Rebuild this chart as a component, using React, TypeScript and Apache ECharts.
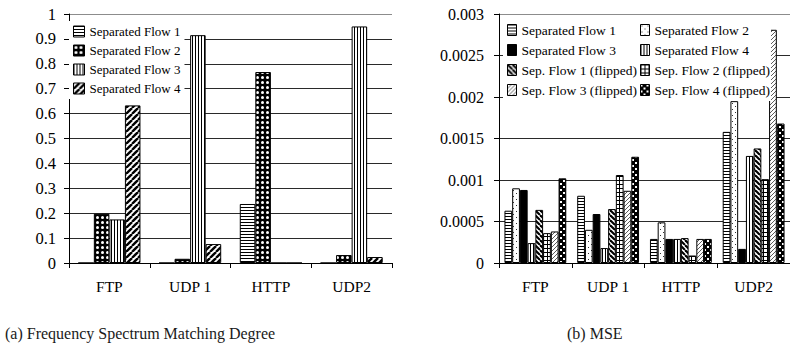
import React, { useEffect, useRef } from "react";
import * as echarts from "echarts";

// ---- data ----
const categories = ["FTP", "UDP 1", "HTTP", "UDP2"];

const matchingNames = ["Separated Flow 1", "Separated Flow 2", "Separated Flow 3", "Separated Flow 4"];
const matchingFlow1 = [0, 0, 0.237, 0];
const matchingFlow2 = [0.198, 0.017, 0.767, 0.032];
const matchingFlow3 = [0.175, 0.915, 0, 0.95];
const matchingFlow4 = [0.633, 0.076, 0, 0.024];
const matchingTicks = [0, 0.1, 0.2, 0.3, 0.4, 0.5, 0.6, 0.7, 0.8, 0.9, 1];

const mseNames = [
  "Separated Flow 1",
  "Separated Flow 2",
  "Separated Flow 3",
  "Separated Flow 4",
  "Sep. Flow 1 (flipped)",
  "Sep. Flow 2 (flipped)",
  "Sep. Flow 3 (flipped)",
  "Sep. Flow 4 (flipped)",
];
const mseFlow1 = [0.00063, 0.00081, 0.00029, 0.00158];
const mseFlow2 = [0.0009, 0.0004, 0.00049, 0.00195];
const mseFlow3 = [0.00088, 0.00059, 0.00029, 0.00017];
const mseFlow4 = [0.00024, 0.00018, 0.00029, 0.00129];
const mseFlow1Flipped = [0.00064, 0.00065, 0.0003, 0.00138];
const mseFlow2Flipped = [0.00036, 0.00106, 0.00009, 0.00101];
const mseFlow3Flipped = [0.00038, 0.00087, 0.00029, 0.00281];
const mseFlow4Flipped = [0.00102, 0.00128, 0.00029, 0.00168];
const mseTicks = [0, 0.0005, 0.001, 0.0015, 0.002, 0.0025, 0.003];

const captionA = "(a) Frequency Spectrum Matching Degree";
const captionB = "(b) MSE";

const SERIF = "Liberation Serif";

// ---- hatch fills painted on small canvas tiles ----
type Painter = (ctx: CanvasRenderingContext2D, w: number, h: number) => void;

function tile(w: number, h: number, paint: Painter, bg = "#fff") {
  const c = document.createElement("canvas");
  c.width = w;
  c.height = h;
  const ctx = c.getContext("2d")!;
  ctx.fillStyle = bg;
  ctx.fillRect(0, 0, w, h);
  ctx.fillStyle = "#000";
  ctx.strokeStyle = "#000";
  paint(ctx, w, h);
  return { image: c.toDataURL(), repeat: "repeat", imageWidth: w, imageHeight: h };
}

const hStripes = () => tile(3, 3, (ctx) => ctx.fillRect(0, 0, 3, 1));
const vStripes = () => tile(3, 3, (ctx) => ctx.fillRect(0, 0, 1, 3));
const whiteDots = () =>
  tile(
    5,
    5,
    (ctx) => {
      ctx.fillStyle = "#fff";
      ctx.beginPath();
      ctx.arc(2.5, 2.5, 1.5, 0, Math.PI * 2);
      ctx.fill();
    },
    "#000"
  );
const diagUp = (s: number, lw: number, color = "#000") =>
  tile(s, s, (ctx) => {
    ctx.lineWidth = lw;
    ctx.strokeStyle = color;
    for (const o of [-s, 0, s]) {
      ctx.beginPath();
      ctx.moveTo(o, s);
      ctx.lineTo(o + s, 0);
      ctx.stroke();
    }
  });
const diagDown = (s: number, lw: number, color = "#000") =>
  tile(s, s, (ctx) => {
    ctx.lineWidth = lw;
    ctx.strokeStyle = color;
    for (const o of [-s, 0, s]) {
      ctx.beginPath();
      ctx.moveTo(o, 0);
      ctx.lineTo(o + s, s);
      ctx.stroke();
    }
  });
const sparseDots = () =>
  tile(6, 6, (ctx) => {
    ctx.fillStyle = "#333";
    ctx.fillRect(1, 1, 1, 1);
    ctx.fillRect(4, 4, 1, 1);
  });
const gridLines = () =>
  tile(4, 4, (ctx) => {
    ctx.fillRect(0, 0, 4, 1);
    ctx.fillRect(0, 0, 1, 4);
  });
const checker = () =>
  tile(
    6,
    6,
    (ctx) => {
      ctx.fillStyle = "#fff";
      ctx.fillRect(0, 0, 2, 2);
      ctx.fillRect(3, 3, 2, 2);
    },
    "#000"
  );

// ---- shared axis styling ----
const fmt = (v: number) => String(+v.toFixed(6));

function valueAxis(ticks: number[], fontSize: number, margin: number) {
  const colors = ticks.map((_, i) => (i === ticks.length - 1 ? "#8c8c8c" : "#2a2a2a"));
  return {
    type: "value",
    min: ticks[0],
    max: ticks[ticks.length - 1],
    interval: ticks[1] - ticks[0],
    axisLine: { show: true, lineStyle: { color: "#000", width: 1 } },
    axisTick: { show: true, length: 5, lineStyle: { color: "#000" } },
    axisLabel: { color: "#000", fontFamily: SERIF, fontSize, margin, formatter: fmt },
    splitLine: { show: true, lineStyle: { color: colors, width: 1 } },
  };
}

function categoryAxis(fontSize: number) {
  return {
    type: "category",
    data: categories,
    axisLine: { show: true, lineStyle: { color: "#000", width: 1 } },
    axisTick: { show: true, length: 5, lineStyle: { color: "#000" } },
    axisLabel: { color: "#000", fontFamily: SERIF, fontSize, margin: 15 },
    splitLine: { show: false },
  };
}

function bars(name: string, data: number[], color: any, gap: string) {
  return {
    type: "bar",
    name,
    data,
    barGap: "0%",
    barCategoryGap: gap,
    silent: true,
    itemStyle: { color, borderColor: "#000", borderWidth: 1 },
  };
}

function legend(
  names: string[],
  left: number,
  top: number,
  itemWidth: number,
  fontSize: number,
  padding: number | number[]
) {
  return {
    orient: "vertical",
    left,
    top,
    padding,
    itemGap: 6,
    itemWidth,
    itemHeight: 11,
    icon: "rect",
    backgroundColor: "#fff",
    selectedMode: false,
    itemStyle: { borderColor: "#000", borderWidth: 1 },
    textStyle: { fontFamily: SERIF, fontSize, color: "#000", lineHeight: 13 },
    data: names,
  };
}

function caption(text: string, left: number) {
  return {
    type: "text",
    left,
    top: 325,
    style: { text, font: `16px ${SERIF}`, fill: "#1a1a1a" },
  };
}

function matchingOption() {
  const fills = [hStripes(), whiteDots(), vStripes(), diagUp(6, 2.4)];
  const values = [matchingFlow1, matchingFlow2, matchingFlow3, matchingFlow4];
  return {
    animation: false,
    textStyle: { fontFamily: SERIF },
    grid: { left: 69, right: 3, top: 14, bottom: 95 },
    xAxis: categoryAxis(15.5),
    yAxis: valueAxis(matchingTicks, 16.5, 13),
    legend: legend(matchingNames, 69, 21, 11, 13, 4),
    series: matchingNames.map((n, i) => bars(n, values[i], fills[i], "23%")),
    graphic: [caption(captionA, 5)],
  };
}

function mseOption() {
  const fills = [
    hStripes(),
    sparseDots(),
    "#000",
    vStripes(),
    diagDown(5, 2.1),
    gridLines(),
    diagUp(4, 0.8, "#333"),
    checker(),
  ];
  const values = [
    mseFlow1,
    mseFlow2,
    mseFlow3,
    mseFlow4,
    mseFlow1Flipped,
    mseFlow2Flipped,
    mseFlow3Flipped,
    mseFlow4Flipped,
  ];
  const leftCol = [mseNames[0], mseNames[2], mseNames[4], mseNames[6]];
  const rightCol = [mseNames[1], mseNames[3], mseNames[5], mseNames[7]];
  return {
    animation: false,
    textStyle: { fontFamily: SERIF },
    grid: { left: 104, right: -7, top: 14, bottom: 95 },
    xAxis: categoryAxis(15.5),
    yAxis: valueAxis(mseTicks, 16, 15),
    legend: [
      legend(leftCol, 108, 19, 9, 13.5, [4, 0, 4, 4]),
      legend(rightCol, 241, 19, 9, 13.5, [4, 1, 4, 4]),
    ],
    series: mseNames.map((n, i) => bars(n, values[i], fills[i], "15%")),
    graphic: [caption(captionB, 172)],
  };
}

function Chart({ left, build }: { left: number; build: () => any }) {
  const ref = useRef<HTMLDivElement>(null);
  useEffect(() => {
    if (!ref.current) return;
    const chart = echarts.init(ref.current, undefined, { renderer: "svg" });
    chart.setOption(build());
    return () => chart.dispose();
  }, [build]);
  return (
    <div
      ref={ref}
      style={{ position: "absolute", left, top: 0, width: 395, height: 358, background: "#fff" }}
    />
  );
}

export default function App() {
  return (
    <div style={{ position: "absolute", left: 0, top: 0, width: 790, height: 358, overflow: "hidden", background: "#fff" }}>
      <Chart left={0} build={matchingOption} />
      <Chart left={395} build={mseOption} />
    </div>
  );
}
